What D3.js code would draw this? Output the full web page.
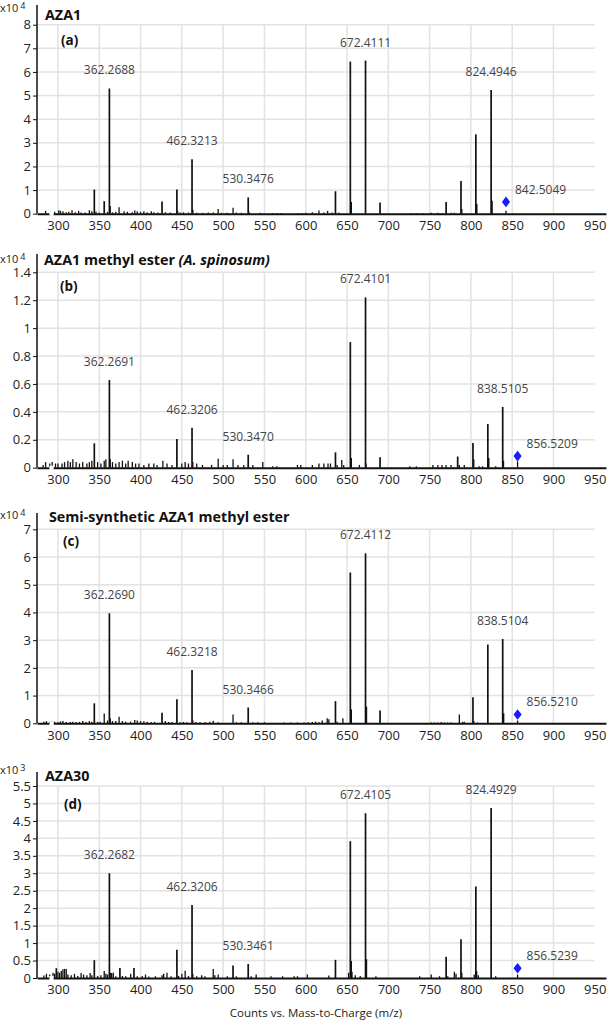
<!DOCTYPE html>
<html>
<head>
<meta charset="utf-8">
<script src="https://cdn.jsdelivr.net/npm/d3@7"></script>
<style>
  body { margin: 0; background: #fff; }
  svg { display: block; font-family: "Open Sans", sans-serif; }
</style>
</head>
<body>
<svg width="609" height="1021"></svg>
<script>
// peaks: [m/z, intensity] in the panel's own unit (x10^4 or x10^3)
const peaksA = [[285,0.12],[292,0.05],[296,0.08],[301,0.15],[303,0.12],[306,0.1],[310,0.06],[313,0.08],[317,0.15],[321,0.06],[325,0.12],[328,0.05],[333,0.05],[338,0.15],[341,0.1],[344,1.02],[346,0.08],[350,0.05],[356,0.53],[360,0.08],[362.2688,5.3],[363.3,0.33],[366,0.06],[370,0.08],[374,0.27],[380,0.1],[384,0.08],[390,0.06],[393,0.14],[396,0.1],[400,0.08],[404,0.1],[408,0.06],[413,0.1],[416,0.06],[421,0.05],[426,0.52],[430,0.06],[436,0.05],[444,1.02],[445,0.1],[448,0.05],[452,0.06],[458,0.05],[462.3213,2.3],[463.3,0.17],[468,0.04],[475,0.04],[482,0.05],[488,0.05],[494,0.2],[498,0.04],[505,0.04],[512,0.25],[516,0.05],[522,0.04],[530.3476,0.69],[532,0.05],[545,0.04],[560,0.03],[565,0.03],[570,0.03],[590,0.03],[595,0.03],[600,0.04],[608,0.06],[616,0.14],[622,0.05],[626.5,0.12],[632,0.05],[640,0.05],[636,0.95],[654,6.44],[655,0.5],[672.4111,6.48],[690,0.47],[727,0.03],[735,0.03],[742,0.03],[752,0.04],[760,0.04],[765,0.03],[770,0.5],[776,0.04],[780,0.04],[788,1.38],[789,0.2],[806,3.36],[807,0.41],[824.4946,5.24],[825.5,0.55],[842.5049,0.12]];
const peaksB = [[282,0.02],[285,0.04],[290,0.03],[293,0.04],[297,0.03],[300,0.03],[305,0.03],[308,0.04],[312,0.05],[315,0.04],[318,0.06],[322,0.04],[326,0.03],[330,0.04],[335,0.03],[338,0.04],[341,0.05],[344,0.175],[348,0.04],[352,0.03],[356,0.05],[358,0.06],[362.2691,0.628],[363.3,0.06],[366,0.04],[370,0.03],[374,0.04],[378,0.05],[382,0.03],[385,0.05],[390,0.04],[394,0.03],[398,0.03],[404,0.02],[410,0.03],[416,0.03],[420,0.02],[427,0.05],[432,0.03],[438,0.02],[444,0.205],[450,0.03],[454,0.04],[458,0.03],[462.3206,0.287],[463.3,0.04],[468,0.03],[475,0.02],[486,0.02],[494,0.065],[500,0.02],[505,0.02],[512,0.06],[518,0.02],[525,0.02],[530.347,0.093],[536,0.02],[548,0.04],[560,0.01],[565,0.01],[590,0.02],[594,0.02],[608,0.02],[616,0.03],[622,0.03],[627,0.03],[630,0.03],[636,0.11],[638,0.02],[643.6,0.055],[646,0.02],[654,0.9],[655,0.07],[665,0.02],[672.4101,1.22],[673,0.03],[690,0.075],[726,0.01],[734,0.01],[754,0.02],[760,0.02],[765,0.02],[770,0.02],[776,0.02],[784,0.08],[786,0.02],[792,0.02],[802.5,0.177],[803.5,0.06],[810,0.01],[814,0.01],[820.5,0.313],[821.5,0.07],[830,0.01],[838.5105,0.435],[839.5,0.05],[856.5209,0.045]];
const peaksC = [[283,0.06],[286,0.08],[290,0.06],[293,0.08],[296,0.06],[300,0.05],[303,0.07],[306,0.08],[310,0.05],[315,0.05],[318,0.06],[322,0.05],[326,0.05],[330,0.08],[334,0.05],[338,0.08],[341,0.06],[344,0.72],[348,0.05],[351,0.06],[356,0.35],[360,0.1],[362.269,3.97],[363.3,0.18],[366,0.08],[370,0.08],[374,0.24],[378,0.08],[382,0.06],[388,0.06],[393,0.12],[396,0.1],[400,0.08],[404,0.07],[408,0.06],[413,0.05],[417,0.05],[426,0.38],[430,0.08],[434,0.05],[438,0.05],[444,0.87],[448,0.04],[452,0.05],[456,0.04],[462.3218,1.92],[463.3,0.1],[467,0.05],[472,0.04],[478,0.04],[484,0.06],[488,0.09],[494,0.04],[512,0.32],[516,0.04],[522,0.04],[530.3466,0.57],[536,0.04],[542,0.04],[550,0.04],[574,0.03],[582,0.03],[590,0.03],[598,0.03],[603,0.04],[608,0.05],[612,0.06],[616,0.04],[620,0.1],[626,0.18],[628,0.15],[636,0.8],[638,0.06],[645,0.18],[654,5.44],[655,0.5],[672.4112,6.13],[673.4,0.6],[690,0.46],[752,0.03],[756,0.03],[760,0.03],[764,0.05],[768,0.03],[772,0.03],[776,0.03],[786,0.32],[790,0.05],[792,0.06],[802.5,0.94],[803.5,0.08],[808,0.03],[820.5,2.84],[838.5104,3.04],[839.5,0.36],[856.521,0.1]];
const peaksD = [[283,0.07],[286,0.12],[290,0.1],[294,0.15],[296,0.12],[298,0.28],[300,0.18],[302,0.15],[304,0.2],[306,0.25],[308,0.26],[310,0.26],[312,0.1],[316,0.08],[320,0.12],[324,0.06],[328,0.14],[331,0.1],[335,0.08],[339,0.14],[341,0.08],[344,0.51],[348,0.06],[352,0.08],[356,0.2],[358,0.12],[360,0.1],[362.2682,3.0],[363.3,0.15],[365,0.14],[367,0.15],[370,0.05],[375,0.29],[378,0.06],[382,0.05],[388,0.12],[392,0.29],[396,0.05],[402,0.06],[406,0.1],[410,0.04],[418,0.05],[426,0.08],[428,0.12],[432,0.15],[437,0.05],[444,0.81],[446,0.06],[450,0.12],[454,0.21],[458,0.06],[462.3206,2.09],[463.3,0.12],[468,0.05],[474,0.08],[478,0.05],[488,0.26],[490,0.08],[494,0.1],[505,0.05],[512,0.36],[516,0.05],[530.3461,0.4],[534,0.05],[540,0.1],[558,0.05],[572,0.05],[586,0.05],[590,0.05],[602,0.1],[628,0.07],[636,0.52],[652,0.15],[654,3.92],[655,0.49],[656,0.18],[660,0.08],[666,0.06],[672.4105,4.72],[673.4,0.54],[685,0.05],[738,0.05],[752,0.1],[762,0.05],[770,0.61],[772,0.05],[780,0.18],[782,0.12],[788,1.11],[789,0.15],[804,0.1],[806,2.62],[807,0.2],[809,0.08],[824.4929,4.87],[830,0.05],[856.5239,0.1]];

// labelled fragment ions
const labelsA = ["362.2688", "462.3213", "530.3476", "672.4111", "824.4946"];
const labelsB = ["362.2691", "462.3206", "530.3470", "672.4101", "838.5105"];
const labelsC = ["362.2690", "462.3218", "530.3466", "672.4112", "838.5104"];
const labelsD = ["362.2682", "462.3206", "530.3461", "672.4105", "824.4929"];

// precursor ion (blue diamond): [m/z label, intensity]
const precursorA = ["842.5049", 0.5];
const precursorB = ["856.5209", 0.083];
const precursorC = ["856.5210", 0.32];
const precursorD = ["856.5239", 0.28];

const titles = ["AZA1", "AZA1 methyl ester ", "Semi-synthetic AZA1 methyl ester", "AZA30"];
const panelTags = ["(a)", "(b)", "(c)", "(d)"];
const exponents = ["4", "4", "4", "3"];
const yTicksA = d3.range(0, 8.01, 1);
const yTicksB = [0, 0.2, 0.4, 0.6, 0.8, 1, 1.2, 1.4];
const yTicksC = d3.range(0, 7.01, 1);
const yTicksD = d3.range(0, 5.51, 0.5);
const xTicks = d3.range(300, 951, 50);

const svg = d3.select("svg");
const xScale = d3.scaleLinear().domain([274.6, 963.6]).range([37, 606]);

const layout = [
  { axisTop: 5, gridTop: 24.7, y0: 213.7, expY: 7.5, titleY: 15, tagY: 40, titleX: 45, tagX: 61 },
  { axisTop: 254, gridTop: 272.3, y0: 467.7, expY: 258.5, titleY: 260, tagY: 286, titleX: 44, tagX: 60 },
  { axisTop: 513, gridTop: 529.3, y0: 723.3, expY: 515, titleY: 516.5, tagY: 541, titleX: 49, tagX: 63 },
  { axisTop: 772, gridTop: 786, y0: 978, expY: 769.5, titleY: 776, tagY: 804, titleX: 45, tagX: 64 }
];

const panels = [
  { peaks: peaksA, labels: labelsA, prec: precursorA, yTicks: yTicksA },
  { peaks: peaksB, labels: labelsB, prec: precursorB, yTicks: yTicksB },
  { peaks: peaksC, labels: labelsC, prec: precursorC, yTicks: yTicksC },
  { peaks: peaksD, labels: labelsD, prec: precursorD, yTicks: yTicksD }
];

panels.forEach((p, i) => {
  const L = layout[i];
  const top = p.yTicks[p.yTicks.length - 1];
  const yScale = d3.scaleLinear().domain([0, top]).range([L.y0, L.gridTop]);
  const g = svg.append("g");

  // grid
  g.selectAll(".hgrid")
    .data(p.yTicks.slice(1))
    .join("line")
      .attr("x1", xScale.range()[0])
      .attr("x2", xScale(950))
      .attr("y1", d => yScale(d))
      .attr("y2", d => yScale(d))
      .attr("stroke", "#e2e2e2")
      .attr("stroke-width", 1.5);

  g.selectAll(".vgrid")
    .data(xTicks.filter(d => d < 950))
    .join("line")
      .attr("x1", d => xScale(d))
      .attr("x2", d => xScale(d))
      .attr("y1", L.gridTop)
      .attr("y2", L.y0)
      .attr("stroke", "#e2e2e2")
      .attr("stroke-width", 1.5);

  // peaks
  g.selectAll(".peak")
    .data(p.peaks)
    .join("line")
      .attr("x1", d => xScale(d[0]))
      .attr("x2", d => xScale(d[0]))
      .attr("y1", L.y0)
      .attr("y2", d => yScale(d[1]))
      .attr("stroke", "#111")
      .attr("stroke-width", d => d[1] > top * 0.05 ? 1.7 : 1.3);

  // x axis
  const xAxis = g.append("g")
    .attr("transform", `translate(0, ${L.y0})`)
    .call(d3.axisBottom(xScale).tickValues(xTicks).tickSize(0).tickPadding(7));
  xAxis.select(".domain").attr("stroke", "#111").attr("stroke-width", 2);
  xAxis.selectAll("text").attr("font-size", 13).attr("fill", "#222")
    .attr("font-family", "Open Sans, sans-serif");
  // small break in the baseline
  g.append("rect")
    .attr("x", xScale(289.6)).attr("y", L.y0 - 2)
    .attr("width", xScale(294.8) - xScale(289.6)).attr("height", 4)
    .attr("fill", "#fff");

  // y axis
  const yAxis = g.append("g")
    .attr("transform", `translate(${xScale.range()[0]}, 0)`)
    .call(d3.axisLeft(yScale).tickValues(p.yTicks).tickSize(4).tickSizeOuter(0).tickPadding(2)
      .tickFormat(d3.format("~g")));
  yAxis.select(".domain").attr("d", `M0,${L.axisTop}V${L.y0}`).attr("stroke", "#111").attr("stroke-width", 1.5);
  yAxis.selectAll(".tick line").attr("stroke", "#111");
  yAxis.selectAll("text").attr("font-size", 13).attr("fill", "#222")
    .attr("font-family", "Open Sans, sans-serif");

  // x10^n
  const ex = g.append("text")
    .attr("x", 0).attr("y", L.expY + 4)
    .attr("font-size", 11).attr("fill", "#222");
  ex.append("tspan").text("x10");
  ex.append("tspan").attr("dx", 2).attr("dy", -3).attr("font-size", 9).text(exponents[i]);

  // title
  const t = g.append("text")
    .attr("x", L.titleX).attr("y", L.titleY + 5)
    .attr("font-size", 14.3).attr("font-weight", "bold").attr("fill", "#111")
    .text(titles[i]);
  if (i === 1) t.append("tspan").attr("font-style", "italic").text("(A. spinosum)");

  g.append("text")
    .attr("x", L.tagX).attr("y", L.tagY + 5)
    .attr("font-size", 13.5).attr("font-weight", "bold").attr("fill", "#111")
    .text(panelTags[i]);

  // peak labels
  const nearest = mz => p.peaks.reduce((a, b) => Math.abs(b[0] - mz) < Math.abs(a[0] - mz) ? b : a);
  g.selectAll(".plabel")
    .data(p.labels)
    .join("text")
      .attr("x", d => xScale(+d))
      .attr("y", d => yScale(nearest(+d)[1]) - 14)
      .attr("text-anchor", "middle")
      .attr("font-size", 12)
      .attr("fill", "#444")
      .text(d => d);

  // precursor diamond
  const px = xScale(+p.prec[0]), py = yScale(p.prec[1]);
  g.append("path")
    .attr("d", d3.symbol(d3.symbolDiamond, 40)())
    .attr("transform", `translate(${px}, ${py}) scale(1.2, 0.9)`)
    .attr("fill", "#1a1aff");
  g.append("text")
    .attr("x", px + 9).attr("y", py - 8)
    .attr("font-size", 12)
    .attr("fill", "#444")
    .text(p.prec[0]);
});

svg.append("text")
  .attr("x", 316).attr("y", 1017)
  .attr("text-anchor", "middle")
  .attr("font-size", 11.5)
  .attr("fill", "#222")
  .text("Counts vs. Mass-to-Charge (m/z)");
</script>
</body>
</html>
